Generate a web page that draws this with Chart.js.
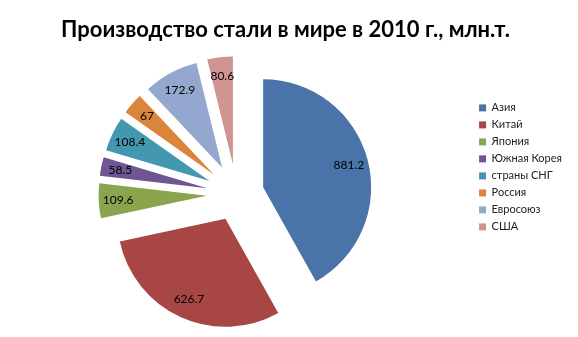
<!DOCTYPE html>
<html>
<head>
<meta charset="utf-8">
<script src="https://cdn.jsdelivr.net/npm/chart.js@4"></script>
<style>
    html, body { margin: 0; padding: 0; background: #fff; }
    #wrap { width: 578px; height: 337px; }
</style>
</head>
<body>
<div id="wrap"><canvas id="steelChart"></canvas></div>
<script>
// Производство стали, 2010 г., млн.т.
const regiones = ['Азия', 'Китай', 'Япония', 'Южная Корея', 'страны СНГ', 'Россия', 'Евросоюз', 'США'];
const produccion = [881.2, 626.7, 109.6, 58.5, 108.4, 67, 172.9, 80.6];
const colores = ['#4a74a9', '#a84545', '#8aa54e', '#6f5594', '#4398af', '#db843c', '#94a8cf', '#d09493'];
// Chart.js traslada cada porción offset/4 px
const separacion = [110, 108, 120, 120, 120, 120, 120, 120];
const RADIO = 108;

function traslado(arc) {
    return (arc.options.offset || 0) / 4;
}

// ArcElement agranda el radio exterior con el offset y estrecha el ángulo;
// lo compensamos para que cada porción conserve su radio y su ángulo
const radioPlugin = {
    id: 'radioParejo',
    beforeDatasetsDraw(chart) {
        const meta = chart.getDatasetMeta(0);
        const base = meta.controller.outerRadius;
        meta.data.forEach(arc => {
            if (arc._ajustado === arc.startAngle) return;
            const fix = 1 - Math.sin(Math.min(Math.PI, arc.circumference || 0));
            const ro = traslado(arc) * fix;
            const delta = ro / (2 * Math.PI * base);
            arc.outerRadius = base - ro;
            arc.startAngle -= delta;
            arc.endAngle += delta;
            arc._ajustado = arc.startAngle;
        });
    }
};

// Etiquetas de valor dentro de cada porción
const etiquetasPlugin = {
    id: 'etiquetas',
    afterDatasetsDraw(chart) {
        const ctx = chart.ctx;
        const meta = chart.getDatasetMeta(0);
        const base = meta.controller.outerRadius;
        ctx.save();
        ctx.font = '12px Lato';
        ctx.fillStyle = '#000';
        ctx.textAlign = 'center';
        ctx.textBaseline = 'middle';
        meta.data.forEach((arc, i) => {
            const mid = (arc.startAngle + arc.endAngle) / 2;
            const r = traslado(arc) + base * 0.82;
            ctx.fillText(String(produccion[i]), arc.x + Math.cos(mid) * r, arc.y + Math.sin(mid) * r);
        });
        ctx.restore();
    }
};

new Chart(document.getElementById('steelChart'), {
    type: 'pie',
    data: {
        labels: regiones,
        datasets: [{
            data: produccion,
            backgroundColor: colores,
            borderWidth: 0,
            offset: separacion
        }]
    },
    options: {
        responsive: true,
        maintainAspectRatio: false,
        animation: false,
        radius: RADIO,
        layout: { padding: { left: -1, right: 6, top: 0, bottom: 1 } },
        plugins: {
            title: {
                display: true,
                text: 'Производство стали в мире в 2010 г., млн.т.',
                color: '#000',
                font: { family: 'Lato', size: 22, weight: 'bold' },
                padding: { top: 17, bottom: 9 }
            },
            legend: {
                position: 'right',
                align: 'start',
                title: { display: true, text: '', padding: { top: 82, bottom: 0 } },
                labels: {
                    boxWidth: 7,
                    boxHeight: 7,
                    padding: 6,
                    color: '#222',
                    font: { family: 'Lato', size: 11 }
                }
            },
            tooltip: { enabled: false }
        }
    },
    plugins: [radioPlugin, etiquetasPlugin]
});
</script>
</body>
</html>
